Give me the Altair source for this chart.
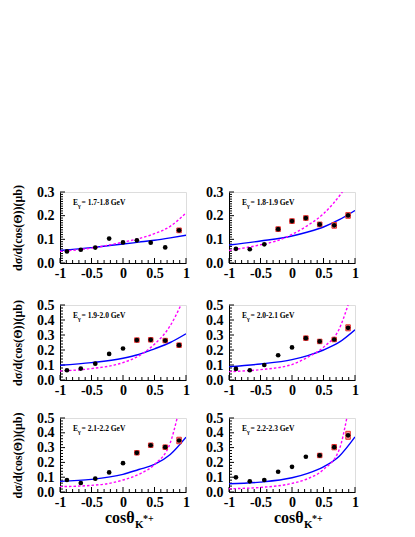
import altair as alt
import pandas as pd

FONT = "Liberation Serif"

# ---------------- data ----------------
xbins = [-0.89, -0.67, -0.44, -0.22, 0.0, 0.22, 0.44, 0.67, 0.89]
energies = ["1.7-1.8", "1.8-1.9", "1.9-2.0", "2.0-2.1", "2.1-2.2", "2.2-2.3"]
ymax = [0.3, 0.3, 0.5, 0.5, 0.5, 0.5]

points = [
    [0.049, 0.056, 0.065, 0.103, 0.087, 0.096, 0.086, 0.066, 0.138],
    [0.060, 0.058, 0.079, 0.143, 0.177, 0.190, 0.163, 0.159, 0.201],
    [0.065, 0.076, 0.109, 0.174, 0.210, 0.266, 0.268, 0.263, 0.232],
    [0.074, 0.065, 0.100, 0.165, 0.217, 0.279, 0.257, 0.270, 0.348],
    [0.081, 0.061, 0.090, 0.132, 0.195, 0.265, 0.316, 0.303, 0.348],
    [0.099, 0.072, 0.081, 0.137, 0.170, 0.238, 0.247, 0.303, 0.383],
]
# systematic error half-widths (0 = no box drawn)
syserr = [
    [0, 0, 0, 0, 0, 0, 0, 0, 0.010],
    [0, 0, 0, 0.010, 0.010, 0.010, 0.010, 0.012, 0.012],
    [0, 0, 0, 0, 0, 0.015, 0.015, 0.015, 0.015],
    [0, 0, 0, 0, 0, 0.015, 0.015, 0.015, 0.020],
    [0, 0, 0, 0, 0, 0.015, 0.015, 0.015, 0.022],
    [0, 0, 0, 0, 0, 0, 0.015, 0.018, 0.027],
]

# model curves (solid blue)
blue_x = [-1, -0.5, 0, 0.25, 0.5, 0.75, 1]
blue_y = [
    [0.053, 0.065, 0.080, 0.088, 0.096, 0.106, 0.117],
    [0.076, 0.093, 0.114, 0.131, 0.152, 0.183, 0.222],
    [0.098, 0.116, 0.145, 0.170, 0.208, 0.250, 0.308],
    [0.089, 0.107, 0.136, 0.163, 0.200, 0.252, 0.335],
    [0.072, 0.085, 0.119, 0.152, 0.186, 0.253, 0.370],
    [0.056, 0.067, 0.096, 0.126, 0.170, 0.242, 0.372],
]
# model curves (dashed magenta)
mag_x = [
    [-1, -0.5, 0, 0.25, 0.5, 0.75, 1],
    [-1, -0.5, -0.25, 0, 0.25, 0.5, 0.65, 0.8],
    [-1, -0.5, 0, 0.25, 0.5, 0.75, 0.92],
    [-1, -0.5, 0, 0.25, 0.5, 0.75, 0.89],
    [-1, -0.5, -0.25, 0, 0.25, 0.5, 0.75, 0.86],
    [-1, -0.5, 0, 0.25, 0.5, 0.75, 0.87],
]
mag_y = [
    [0.049, 0.063, 0.088, 0.103, 0.124, 0.155, 0.212],
    [0.053, 0.077, 0.093, 0.121, 0.159, 0.208, 0.250, 0.300],
    [0.060, 0.076, 0.116, 0.161, 0.239, 0.362, 0.500],
    [0.056, 0.069, 0.103, 0.152, 0.219, 0.341, 0.500],
    [0.036, 0.045, 0.056, 0.081, 0.119, 0.186, 0.332, 0.500],
    [0.022, 0.031, 0.058, 0.090, 0.152, 0.287, 0.500],
]

x_labels = [-1, -0.5, 0, 0.5, 1]
x_minor = [-0.9, -0.8, -0.7, -0.6, -0.4, -0.3, -0.2, -0.1,
           0.1, 0.2, 0.3, 0.4, 0.6, 0.7, 0.8, 0.9]
y_labels = {0.3: [0, 0.1, 0.2, 0.3], 0.5: [0, 0.1, 0.2, 0.3, 0.4, 0.5]}
y_minor = {
    0.3: [round(0.01 * k, 2) for k in range(31) if k % 10],
    0.5: [round(0.02 * k, 2) for k in range(26) if k % 5],
}

Y_TITLE = "dσ/d(cos(Θ))(μb)"
W = 126


def panel(i, H, left_col, bottom_row):
    ym = ymax[i]
    xs = alt.Scale(domain=[-1, 1], nice=False, zero=False)
    ys = alt.Scale(domain=[0, ym], nice=False, zero=False)
    xaxis = alt.Axis(values=x_labels, labelExpr="'' + datum.value", ticks=False,
                     grid=False, title=None, labelFont=FONT, labelFontSize=14,
                     labelFontWeight="bold", labelColor="black", labelPadding=3,
                     labelFlush=False, labelOverlap=False, domainColor="black",
                     domainWidth=1)
    yargs = dict(values=y_labels[ym], ticks=False, grid=False, labelFont=FONT,
                 labelFontSize=14, labelFontWeight="bold", labelColor="black",
                 labelPadding=6, labelFlush=False, labelOverlap=False,
                 domainColor="black", domainWidth=1)
    if left_col:
        yaxis = alt.Axis(title=Y_TITLE, titleFont=FONT, titleFontSize=12,
                         titleFontWeight="bold", titleColor="black",
                         titlePadding=12, **yargs)
    else:
        yaxis = alt.Axis(title=None, **yargs)
    X = alt.X("x:Q", scale=xs, axis=xaxis)
    Y = alt.Y("y:Q", scale=ys, axis=yaxis)

    pts = pd.DataFrame({"x": xbins, "y": points[i], "err": syserr[i]})
    blue = pd.DataFrame({"x": blue_x, "y": blue_y[i]})
    mag = pd.DataFrame({"x": mag_x[i], "y": mag_y[i]})
    yt = pd.DataFrame({"y": y_labels[ym]})
    ytm = pd.DataFrame({"y": y_minor[ym]})
    xt = pd.DataFrame({"x": x_labels})
    xtm = pd.DataFrame({"x": x_minor})
    lab = pd.DataFrame({"label": ["= " + energies[i] + " GeV"]})

    layers = []
    layers.append(alt.Chart(yt).mark_rule(color="black", strokeWidth=1).encode(
        y=Y, x=alt.value(0), x2=alt.value(5)))
    layers.append(alt.Chart(ytm).mark_rule(color="black", strokeWidth=1).encode(
        y=Y, x=alt.value(0), x2=alt.value(3)))
    layers.append(alt.Chart(xt).mark_rule(color="black", strokeWidth=1).encode(
        x=X, y=alt.value(H), y2=alt.value(H - 5)))
    layers.append(alt.Chart(xtm).mark_rule(color="black", strokeWidth=1).encode(
        x=X, y=alt.value(H), y2=alt.value(H - 3)))
    layers.append(alt.Chart(blue).mark_line(color="#0000ff", strokeWidth=1.4,
                                            interpolate="monotone", clip=True).encode(x=X, y=Y))
    layers.append(alt.Chart(mag).mark_line(color="#ff00ff", strokeWidth=1.4,
                                           strokeDash=[2.5, 2], interpolate="monotone",
                                           clip=True).encode(x=X, y=Y))
    layers.append(alt.Chart(pts).transform_filter("datum.err > 0").transform_calculate(
        x0="datum.x - 0.036", x1="datum.x + 0.036",
        y0="datum.y - datum.err", y1="datum.y + datum.err").mark_rect(
        fill="#f79a9a", stroke="#e83030", strokeWidth=1).encode(
        x=alt.X("x0:Q", scale=xs, axis=xaxis), x2="x1:Q",
        y=alt.Y("y0:Q", scale=ys, axis=yaxis), y2="y1:Q"))
    layers.append(alt.Chart(pts).mark_circle(color="black", opacity=1, size=22).encode(x=X, y=Y))
    # panel label  E_gamma = ... GeV
    layers.append(alt.Chart(lab).mark_text(font=FONT, fontSize=7.5, fontWeight="bold",
                                           align="left", baseline="alphabetic",
                                           color="black").encode(
        x=alt.value(13), y=alt.value(13), text=alt.value("E")))
    layers.append(alt.Chart(lab).mark_text(font=FONT, fontSize=6, fontWeight="bold",
                                           align="left", baseline="alphabetic",
                                           color="black").encode(
        x=alt.value(18), y=alt.value(16), text=alt.value("γ")))
    layers.append(alt.Chart(lab).mark_text(font=FONT, fontSize=7.5, fontWeight="bold",
                                           align="left", baseline="alphabetic",
                                           color="black").encode(
        x=alt.value(21.5), y=alt.value(13), text="label:N"))
    if bottom_row:
        layers.append(alt.Chart(lab).mark_text(font=FONT, fontSize=16, fontWeight="bold",
                                               align="left", baseline="alphabetic",
                                               color="black").encode(
            x=alt.value(45), y=alt.value(H + 31), text=alt.value("cosθ")))
        layers.append(alt.Chart(lab).mark_text(font=FONT, fontSize=11, fontWeight="bold",
                                               align="left", baseline="alphabetic",
                                               color="black").encode(
            x=alt.value(75), y=alt.value(H + 36), text=alt.value("K")))
        layers.append(alt.Chart(lab).mark_text(font=FONT, fontSize=10, fontWeight="bold",
                                               align="left", baseline="alphabetic",
                                               color="black").encode(
            x=alt.value(83), y=alt.value(H + 30), text=alt.value("*+")))
    return alt.layer(*layers).properties(width=W, height=H)


row1 = alt.hconcat(panel(0, 71, True, False), panel(1, 71, False, False), spacing=15)
row2 = alt.hconcat(panel(2, 75, True, False), panel(3, 75, False, False), spacing=15)
row3 = alt.hconcat(panel(4, 74, True, True), panel(5, 74, False, True), spacing=15)

chart = alt.vconcat(row1, alt.vconcat(row2, row3, spacing=12), spacing=16).properties(
    padding={"left": 3, "top": 176, "right": 5, "bottom": 5}
).configure_view(stroke="#777777", strokeWidth=1.5, fill="white").configure(
    background="white")

chart.save("out.html", embed_options={"renderer": "svg", "actions": False})
